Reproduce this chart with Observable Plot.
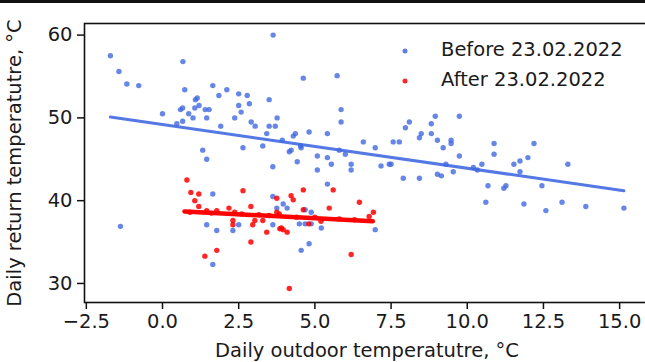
<!DOCTYPE html>
<html><head><meta charset="utf-8">
<script src="https://cdn.jsdelivr.net/npm/d3@7"></script>
<script src="https://cdn.jsdelivr.net/npm/@observablehq/plot@0.6"></script>
<style>
html,body{margin:0;padding:0;background:#fff;overflow:hidden;}
#wrap{position:relative;width:645px;height:362px;overflow:hidden;font-family:"DejaVu Sans",sans-serif;color:#1a1a1a;}
#wrap svg{position:absolute;left:0;top:0;}
.lbl{position:absolute;font-size:19.5px;white-space:nowrap;line-height:1.164;}
.topbar{position:absolute;left:0;top:0;width:645px;height:3px;background:#111;}
.leg{position:absolute;font-size:19.5px;white-space:nowrap;line-height:1.164;transform:translateY(-50%);}
.mk{position:absolute;width:5px;height:5px;border-radius:50%;transform:translate(-50%,-50%);}
</style></head><body><div id="wrap"></div>
<script>
const beforeX = [-1.71,-1.43,-1.17,-0.78,-1.38,0.00,0.47,0.59,0.66,0.66,0.67,0.73,0.86,1.00,1.08,1.14,1.06,1.20,1.40,1.53,1.45,1.65,1.85,2.11,1.91,2.37,2.50,2.78,2.50,2.58,2.85,2.91,3.04,3.50,3.63,3.76,3.50,3.70,3.42,3.29,2.64,1.32,1.45,4.62,5.73,5.86,5.86,3.93,4.29,4.36,4.81,5.41,4.22,4.16,4.55,5.08,5.41,5.80,6.00,6.59,6.98,7.57,7.77,7.97,8.10,8.43,8.49,8.82,8.95,8.82,9.02,9.21,9.47,9.47,9.74,9.74,5.54,5.08,5.41,6.19,6.19,7.17,7.44,7.50,7.90,8.43,9.02,9.15,9.54,10.20,10.33,4.53,10.88,10.88,12.19,11.99,11.73,11.53,13.30,10.48,9.30,11.73,10.68,11.20,11.27,12.45,10.61,11.86,12.58,13.11,13.89,15.14,1.65,1.45,1.78,1.65,2.31,2.50,3.62,3.62,3.75,3.62,4.42,3.96,4.09,4.68,4.88,4.49,4.68,4.88,5.21,4.81,4.55,6.98];
const beforeY = [57.5,55.6,54.1,53.9,36.9,50.5,49.3,51.0,51.2,49.6,56.8,53.4,50.5,50.0,52.2,52.4,51.2,51.5,51.0,51.0,50.0,53.9,52.7,53.4,49.0,50.0,52.9,52.7,51.5,50.7,51.7,49.5,49.0,52.2,60.0,50.0,49.0,49.0,48.1,46.6,46.4,46.1,45.0,54.8,55.1,51.0,49.5,47.3,47.8,48.1,48.3,48.1,46.1,45.9,46.4,45.4,45.2,46.1,45.6,47.1,46.4,47.1,47.1,48.8,49.5,47.6,48.1,49.3,50.2,48.1,47.3,46.4,47.3,46.9,50.2,45.4,44.4,43.7,42.0,44.4,43.7,44.2,44.4,44.4,42.7,42.7,43.2,43.0,43.5,44.0,43.7,46.6,46.9,45.6,46.9,45.2,44.8,44.4,44.4,44.4,44.4,43.5,41.8,41.5,41.8,41.8,39.8,39.6,38.8,39.8,39.3,39.1,40.8,37.1,36.4,32.3,36.4,37.1,44.1,40.5,39.1,37.1,44.7,39.6,39.1,38.9,38.6,37.2,37.2,37.2,36.7,34.8,34.0,36.5];
const afterX = [0.80,0.93,1.19,1.06,1.19,1.45,1.78,2.18,2.37,2.31,2.31,2.64,2.90,2.96,3.03,3.29,3.16,3.42,2.90,1.78,1.39,3.75,3.75,3.85,4.22,4.29,4.62,5.60,6.46,5.47,4.62,6.92,6.78,3.83,3.90,3.96,4.09,6.19,4.16,0.90,1.60,2.60,3.50,4.40,5.00,5.80,6.30,4.80,5.20];
const afterY = [42.5,41.0,40.8,40.0,39.3,38.8,38.8,39.1,38.6,37.6,37.1,41.2,39.3,37.1,37.6,37.6,38.3,36.2,35.0,34.0,33.3,40.3,38.6,36.6,40.6,40.1,41.3,41.3,39.8,39.1,38.9,38.6,38.1,38.4,36.7,36.5,36.2,33.5,29.4,38.6,38.5,38.4,38.2,38.0,38.0,37.8,37.7,37.2,37.5];
const fitBeforeX = [-1.71, 15.14];
const fitBeforeY = [50.1, 41.2];
const fitAfterX = [0.72, 6.90];
const fitAfterY = [38.7, 37.5];
const xTicks = [-2.5, 0, 2.5, 5, 7.5, 10, 12.5, 15];
const yTicks = [30, 40, 50, 60];
const seriesNames = ["Before 23.02.2022", "After 23.02.2022"];
const seriesColors = ["#4169e1", "#ff0000"];
const xLabel = "Daily outdoor temperatutre, °C";
const yLabel = "Daily return temperatutre, °C";

const before = beforeX.map((x, i) => ({x, y: beforeY[i]}));
const after = afterX.map((x, i) => ({x, y: afterY[i]}));
const fitB = fitBeforeX.map((x, i) => ({x, y: fitBeforeY[i]}));
const fitA = fitAfterX.map((x, i) => ({x, y: fitAfterY[i]}));
const fmt = d => (d < 0 ? "\u2212" : "") + Math.abs(d).toFixed(1);

const chart = Plot.plot({
  width: 645, height: 362,
  marginTop: 23, marginBottom: 60, marginLeft: 84, marginRight: -4,
  style: {fontFamily: "DejaVu Sans", fontSize: "19.5px", color: "#1a1a1a", background: "transparent"},
  x: {domain: [-2.56, 15.98]},
  y: {domain: [27.7, 61.4]},
  marks: [
    Plot.dot(before, {x: "x", y: "y", r: 2.7, fill: seriesColors[0], fillOpacity: 0.8, stroke: "none"}),
    Plot.line(fitB, {x: "x", y: "y", stroke: seriesColors[0], strokeWidth: 3, strokeOpacity: 0.9}),
    Plot.dot(after, {x: "x", y: "y", r: 2.7, fill: seriesColors[1], fillOpacity: 0.85, stroke: "none"}),
    Plot.line(fitA, {x: "x", y: "y", stroke: seriesColors[1], strokeWidth: 4.5}),
    Plot.axisX({ticks: xTicks, tickFormat: fmt, tickSize: 7, tickPadding: 5, label: null, stroke: "#111", strokeWidth: 1.5}),
    Plot.axisY({ticks: yTicks, tickFormat: d => String(d), tickSize: 7, tickPadding: 5, label: null, stroke: "#111", strokeWidth: 1.5}),
    Plot.frame({stroke: "#111", strokeWidth: 1.6})
  ]
});
const wrap = document.getElementById("wrap");
wrap.appendChild(chart);

function addDiv(cls, text, css) {
  const d = document.createElement("div");
  d.className = cls;
  if (text) d.textContent = text;
  Object.assign(d.style, css);
  wrap.appendChild(d);
  return d;
}
addDiv("topbar", null, {});
addDiv("lbl", xLabel, {left: "367px", top: "351px", transform: "translate(-50%,-50%)"});
addDiv("lbl", yLabel, {left: "15px", top: "163px", transform: "translate(-50%,-50%) rotate(-90deg)"});
const legY = [49.5, 80];
seriesNames.forEach((name, i) => {
  addDiv("mk", null, {left: "405px", top: (legY[i] + 1.2) + "px", background: seriesColors[i], opacity: 0.85});
  addDiv("leg", name, {left: "441px", top: legY[i] + "px"});
});
</script>
</body></html>
